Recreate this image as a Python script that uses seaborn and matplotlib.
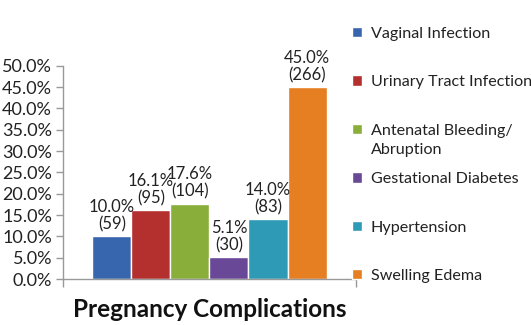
import matplotlib
matplotlib.use("Agg")
import matplotlib.pyplot as plt
import seaborn as sns
import pandas as pd
from matplotlib.text import Annotation
from matplotlib.ticker import FixedLocator, PercentFormatter

categories = ["Vaginal Infection", "Urinary Tract Infection", "Antenatal Bleeding/\nAbruption",
              "Gestational Diabetes", "Hypertension", "Swelling Edema"]
percents = [10.0, 16.1, 17.6, 5.1, 14.0, 45.0]
counts = [59, 95, 104, 30, 83, 266]
colors = ["#3766AE", "#B3302E", "#8AAE3A", "#6A4898", "#2F9AB5", "#E67E22"]
group = "Pregnancy Complications"

sns.set_style("white")
plt.rcParams["font.family"] = ["Lato", "DejaVu Sans"]

df = pd.DataFrame({"group": [group] * len(categories), "category": categories, "pct": percents})

fig = plt.figure(figsize=(5.31, 3.25), dpi=100)
ax = fig.add_axes([0.119, 0.1415, 0.551, 0.656])
sns.barplot(data=df, x="group", y="pct", hue="category", hue_order=categories,
            palette=colors, ax=ax, width=0.8, saturation=1, legend=True)

for cont, p, c in zip(ax.containers, percents, counts):
    ax.bar_label(cont, labels=[f"{p:.1f}%\n({c})"], padding=3, fontsize=12,
                 linespacing=1.1, color="#222222")

ax.set_ylim(0, 50)
ax.set_xlim(-0.5, 0.5)
ax.yaxis.set_major_locator(FixedLocator([0, 5, 10, 15, 20, 25, 30, 35, 40, 45, 50]))
ax.yaxis.set_major_formatter(PercentFormatter(decimals=1))
ax.tick_params(axis="y", labelsize=13, direction="out", length=5, color="#999999",
               width=1, left=True, pad=3, labelcolor="#222222")
ax.set_xticks([0])
ax.set_xticklabels([group], fontsize=17.5, fontweight="bold")
ax.xaxis.set_minor_locator(FixedLocator([-0.5, 0.5]))
ax.tick_params(axis="x", which="major", length=0, pad=14, labelcolor="#111111")
ax.tick_params(axis="x", which="minor", length=6, color="#999999", width=1, bottom=True, direction="out")
ax.set_xlabel("")
ax.set_ylabel("")
for s in ["top", "right"]:
    ax.spines[s].set_visible(False)
for s in ["left", "bottom"]:
    ax.spines[s].set_color("#999999")
    ax.spines[s].set_linewidth(1)

LEG_FS = 11.6
handles, labels = ax.get_legend_handles_labels()
single_labels = [lab.split("\n")[0] for lab in labels]
leg = ax.legend(handles, single_labels, loc="upper left", bbox_to_anchor=(0.663, 0.918),
                bbox_transform=fig.transFigure, frameon=False, fontsize=LEG_FS,
                handlelength=0.6, handleheight=0.6, handletextpad=0.55,
                labelspacing=2.14, borderaxespad=0, borderpad=0, labelcolor="#222222")
# continuation lines of wrapped legend labels
for lab, txt in zip(labels, leg.get_texts()):
    parts = lab.split("\n")
    if len(parts) > 1:
        ann = Annotation("\n".join(parts[1:]), xy=(0, 0), xycoords=txt, xytext=(0, -4),
                         textcoords="offset points", va="top", ha="left", fontsize=LEG_FS,
                         color="#222222", annotation_clip=False)
        ann.set_zorder(10)
        fig.add_artist(ann)

fig.savefig("out.png", dpi=100)
